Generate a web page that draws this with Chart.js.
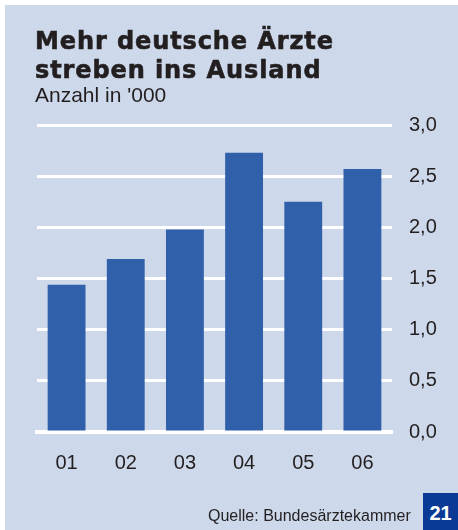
<!DOCTYPE html>
<html>
<head>
<meta charset="utf-8">
<script src="https://cdn.jsdelivr.net/npm/chart.js@4/dist/chart.umd.min.js"></script>
<style>
  body { margin: 0; background: #fff; }
  #wrap { position: relative; width: 458px; height: 530px; overflow: hidden; }
  #panel { position: absolute; left: 5px; top: 5px; right: 0; bottom: 0; background: #cdd8ea; }
  #chart { position: absolute; left: 0; top: 0; }
  .txt { position: absolute; font-family: "Liberation Sans", Arial, sans-serif; color: #231f20; white-space: nowrap; }
  #title { left: 35px; top: 27px; font-family: "DejaVu Sans", sans-serif; font-size: 24px; font-weight: bold; line-height: 29px; letter-spacing: 0.9px; -webkit-text-stroke: 0.6px #231f20; }
  #sub { left: 35px; top: 83px; font-size: 21px; }
  #src { left: 208px; top: 507px; font-size: 16px; }
  #num { left: 423px; top: 493px; width: 35px; height: 37px; background: #0a3a96; color: #fff; font-weight: bold; font-size: 20px; text-align: center; line-height: 40px; }
</style>
</head>
<body>
<div id="wrap">
  <div id="panel"></div>
  <canvas id="chart" width="458" height="530"></canvas>
  <div class="txt" id="title">Mehr deutsche Ärzte<br>streben ins Ausland</div>
  <div class="txt" id="sub">Anzahl in '000</div>
  <div class="txt" id="src">Quelle: Bundesärztekammer</div>
  <div class="txt" id="num">21</div>
</div>
<script>
const years = ["01", "02", "03", "04", "05", "06"];
const doctors = [1.44, 1.69, 1.98, 2.73, 2.25, 2.57];
const yTicks = [0, 0.5, 1, 1.5, 2, 2.5, 3];

const ctx = document.getElementById("chart");
let chart = new Chart(ctx, {
    type: "bar",
    data: {
        labels: years,
        datasets: [{
            data: doctors,
            backgroundColor: "#3160ab",
            borderWidth: 0,
            barPercentage: 0.64,
            categoryPercentage: 1
        }]
    },
    options: {
        responsive: false,
        animation: false,
        layout: { padding: { left: 37, top: 125, right: 0, bottom: 38 } },
        plugins: { legend: { display: false }, tooltip: { enabled: false } },
        scales: {
            x: {
                z: 1,
                grid: { display: false, drawTicks: false },
                border: { display: true, color: "#ffffff", width: 4 },
                ticks: { color: "#231f20", padding: 19, font: { family: "Liberation Sans", size: 20 } },
                afterFit: (s) => { s.height = 60; }
            },
            y: {
                position: "right",
                min: 0, max: 3,
                afterBuildTicks: (s) => { s.ticks = yTicks.map(v => ({ value: v })); },
                grid: { color: "#ffffff", lineWidth: 3, drawTicks: false },
                border: { display: false },
                ticks: {
                    color: "#231f20", padding: 17,
                    font: { family: "Liberation Sans", size: 20 },
                    callback: (v) => v.toFixed(1).replace(".", ",")
                },
                afterFit: (s) => { s.width = 66; }
            }
        }
    }
});
</script>
</body>
</html>
